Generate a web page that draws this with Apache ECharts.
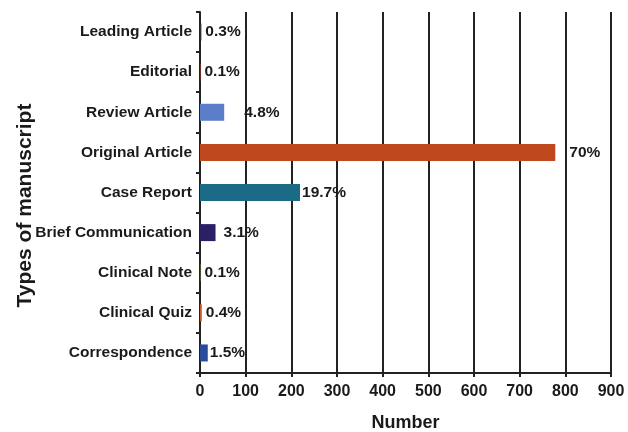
<!DOCTYPE html>
<html>
<head>
<meta charset="utf-8">
<script src="https://cdn.jsdelivr.net/npm/echarts@6/dist/echarts.min.js"></script>
<style>
  html, body { margin: 0; padding: 0; background: #fff; }
  #chart { width: 628px; height: 432px; }
</style>
</head>
<body>
<div id="chart"></div>
<script>
// manuscript types, top to bottom as drawn
var categories = ['Leading Article', 'Editorial', 'Review Article', 'Original Article', 'Case Report',
  'Brief Communication', 'Clinical Note', 'Clinical Quiz', 'Correspondence'];
var counts = [3, 1, 53, 778, 219, 34, 1, 4, 17];
var percents = ['0.3%', '0.1%', '4.8%', '70%', '19.7%', '3.1%', '0.1%', '0.4%', '1.5%'];
var xTicks = [0, 100, 200, 300, 400, 500, 600, 700, 800, 900];

// bar colours, same order as categories
var barColors = ['#3a2a2a', '#b8462a', '#5b7dc8', '#c0481f', '#1b6a86', '#2c1f66', '#6c8a4a', '#c85a30', '#2a4a9a'];
var labelGap = [4, 4, 20, 14, 2, 8, 4, 4, 2];

var chart = echarts.init(document.getElementById('chart'));

var seriesData = counts.map(function(v, i) {
  return {
    value: v,
    itemStyle: { color: barColors[i] },
    label: { distance: labelGap[i] }
  };
});

chart.setOption({
  animation: false,
  textStyle: { fontFamily: 'Liberation Sans, Arial, sans-serif' },
  grid: { left: 200, right: 17, top: 12, bottom: 59, outerBoundsMode: 'none', containLabel: false },
  xAxis: {
    type: 'value',
    min: xTicks[0],
    max: xTicks[xTicks.length - 1],
    interval: 100,
    name: 'Number',
    nameLocation: 'middle',
    nameGap: 41,
    nameMoveOverlap: false,
    nameTextStyle: { fontSize: 18, fontWeight: 'bold', color: '#1a1a1a' },
    axisLine: { show: true, lineStyle: { color: '#222', width: 2 } },
    axisTick: { show: true, length: 4, lineStyle: { color: '#222', width: 2 } },
    axisLabel: { fontSize: 16, fontWeight: 'bold', color: '#1a1a1a', margin: 11 },
    splitLine: { show: true, lineStyle: { color: '#222', width: 2 } }
  },
  yAxis: {
    type: 'category',
    data: categories,
    inverse: true,
    name: 'Types of manuscript',
    nameLocation: 'middle',
    nameGap: 164,
    nameMoveOverlap: false,
    nameRotate: 90,
    nameTextStyle: { fontSize: 21, fontWeight: 'bold', color: '#1a1a1a', padding: [0, 26, 0, 0] },
    axisLine: { show: true, lineStyle: { color: '#222', width: 2 } },
    axisTick: { show: true, length: 4, lineStyle: { color: '#222', width: 2 } },
    axisLabel: { fontSize: 15.5, fontWeight: 'bold', color: '#1a1a1a', margin: 8 },
    splitLine: { show: false }
  },
  series: [{
    type: 'bar',
    data: seriesData,
    barWidth: 17,
    label: {
      show: true,
      position: 'right',
      fontSize: 15.5,
      fontWeight: 'bold',
      color: '#1a1a1a',
      formatter: function(p) { return percents[p.dataIndex]; }
    }
  }]
});
</script>
</body>
</html>
